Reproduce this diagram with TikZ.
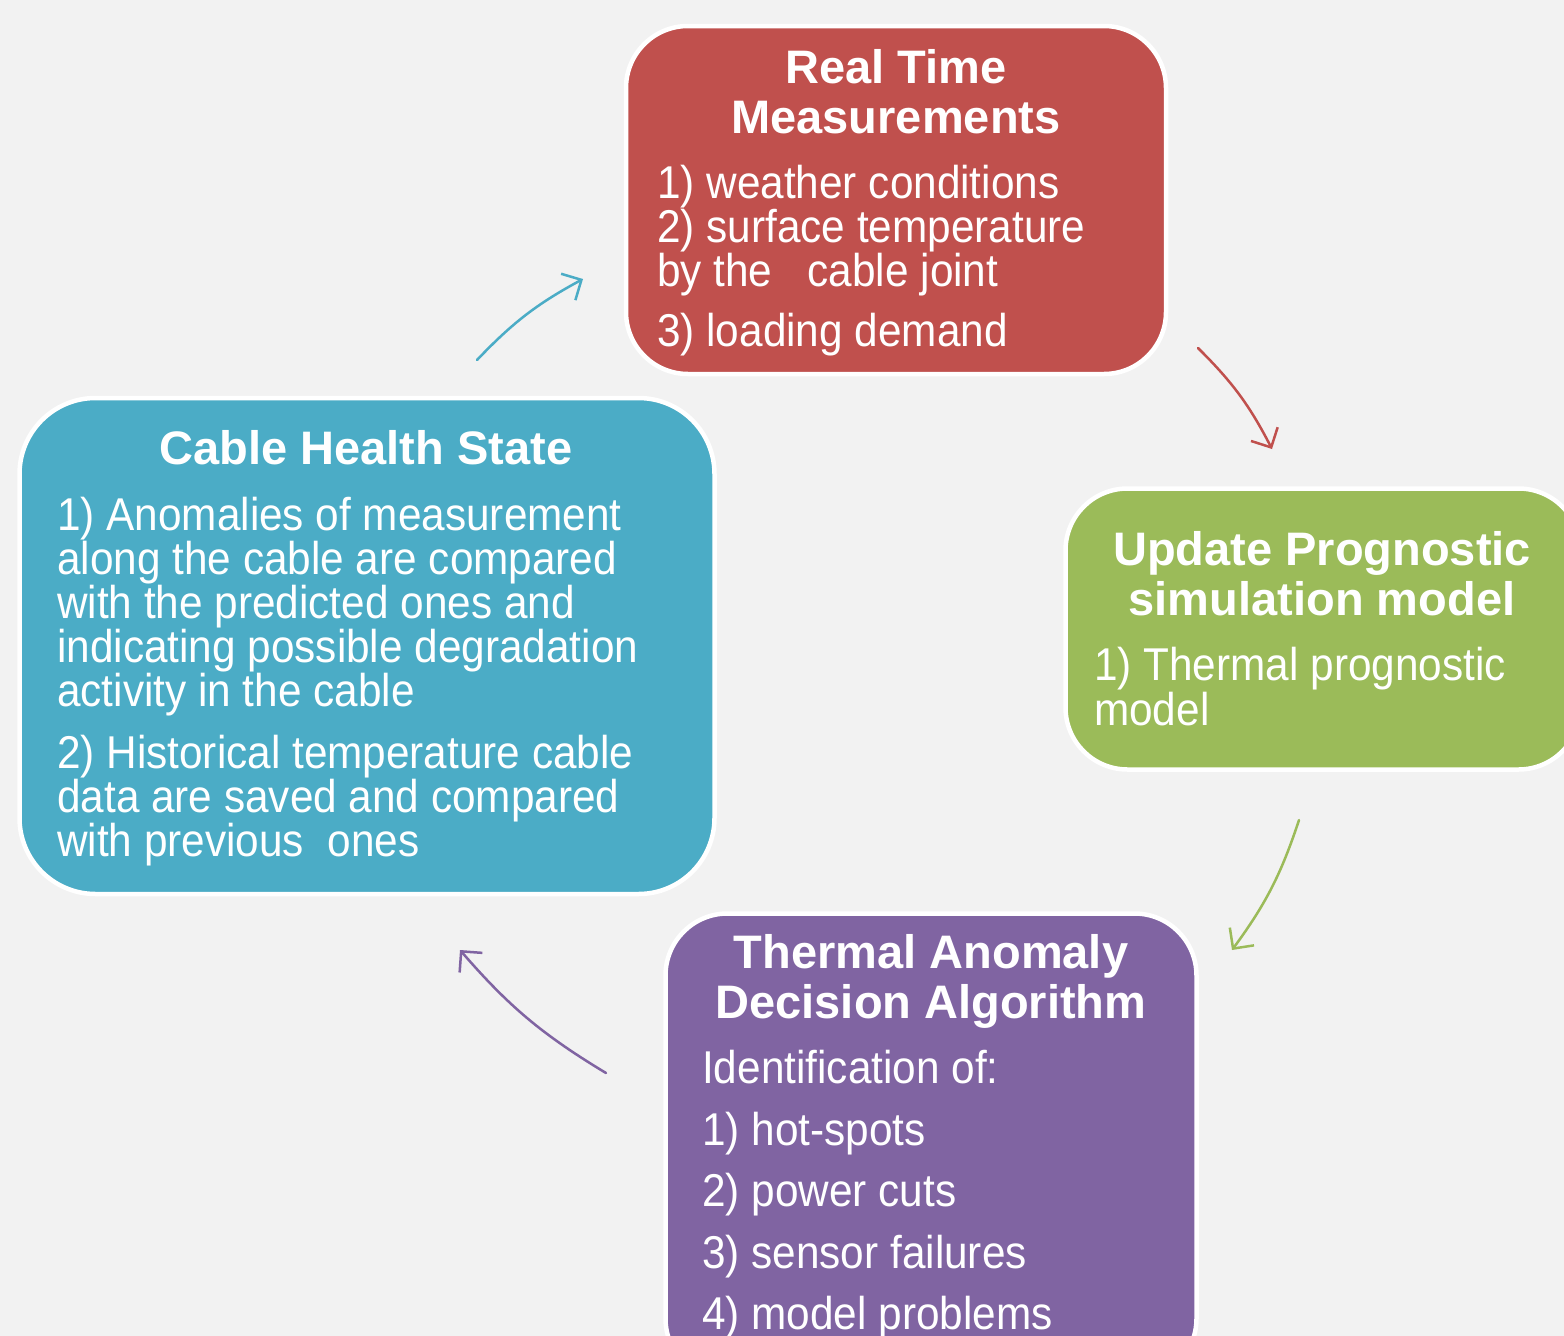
\documentclass[tikz,border=0pt]{standalone}
\usepackage{fontspec}
\setmainfont{Liberation Sans}
\newfontfamily\bodyfont[FakeStretch=0.92]{Liberation Sans}
\usetikzlibrary{arrows.meta}

\definecolor{bg}{HTML}{F2F2F2}
\definecolor{rtred}{HTML}{C0504D}
\definecolor{chteal}{HTML}{4BACC6}
\definecolor{upgreen}{HTML}{9BBB59}
\definecolor{tapurple}{HTML}{8064A2}

\tikzset{
  panel/.style={draw=white, line width=4.5pt, rounded corners=62pt, inner sep=0pt},
  ttl/.style={text=white, font=\fontsize{47}{50}\selectfont\bfseries, inner sep=0pt, anchor=base},
  txt/.style={text=white, font=\bodyfont\fontsize{46}{44}\selectfont, inner sep=0pt, anchor=base west},
  flow/.style={line width=2.5pt, line cap=round,
    -{Straight Barb[length=15pt,width=30pt,line width=2.5pt]}, bend left=9},
}

\begin{document}
\begin{tikzpicture}[x=1pt,y=-1pt]
  \useasboundingbox (0,0) rectangle (1564,1336);
  \clip (0,0) rectangle (1564,1336);
  \fill[bg] (0,0) rectangle (1564,1336);

  % panels
  \node[panel, fill=rtred, minimum width=540pt, minimum height=348pt] (rt) at (896,200) {};
  \node[panel, fill=chteal, rounded corners=76pt, minimum width=695pt, minimum height=496pt] (ch) at (367,646) {};
  \node[panel, fill=upgreen, minimum width=515pt, minimum height=281pt] (up) at (1323,629) {};
  \node[panel, fill=tapurple, minimum width=531pt, minimum height=467pt] (ta) at (931,1147) {};

  % Real Time Measurements
  \node[ttl] (rt-t1) at (896,83) {Real Time};
  \node[ttl] (rt-t2) at (896,133) {Measurements};
  \node[txt] (rt-b1) at (657,198) {1) weather conditions};
  \node[txt] (rt-b2) at (657,242) {2) surface temperature};
  \node[txt] (rt-b3) at (657,286) {by the\ \ \ cable joint};
  \node[txt] (rt-b4) at (657,346) {3) loading demand};

  % Update Prognostic simulation model
  \node[ttl] (up-t1) at (1322,565) {Update Prognostic};
  \node[ttl] (up-t2) at (1322,615) {simulation model};
  \node[txt] (up-b1) at (1094,680) {1) Thermal prognostic};
  \node[txt] (up-b2) at (1094,725) {model};

  % Thermal Anomaly Decision Algorithm
  \node[ttl] (ta-t1) at (931,968) {Thermal Anomaly};
  \node[ttl] (ta-t2) at (931,1018) {Decision Algorithm};
  \node[txt] (ta-b0) at (702,1083) {Identification of:};
  \node[txt] (ta-b1) at (702,1145) {1) hot-spots};
  \node[txt] (ta-b2) at (702,1206) {2) power cuts};
  \node[txt] (ta-b3) at (702,1268) {3) sensor failures};
  \node[txt] (ta-b4) at (702,1329) {4) model problems};

  % Cable Health State
  \node[ttl] (ch-t1) at (366,464) {Cable Health State};
  \node[txt] (ch-b1) at (57,530) {1) Anomalies of measurement};
  \node[txt] (ch-b2) at (57,574) {along the cable are compared};
  \node[txt] (ch-b3) at (57,618) {with the predicted ones and};
  \node[txt] (ch-b4) at (57,662) {indicating possible degradation};
  \node[txt] (ch-b5) at (57,706) {activity in the cable};
  \node[txt] (ch-b6) at (57,768) {2) Historical temperature cable};
  \node[txt] (ch-b7) at (57,812) {data are saved and compared};
  \node[txt] (ch-b8) at (57,856) {with previous\ \ ones};

  % cycle arrows between the panels
  \coordinate (a1s) at (477,360);  \coordinate (a1e) at (583,279);
  \coordinate (a2s) at (1198,348); \coordinate (a2e) at (1272,449);
  \coordinate (a3s) at (1299,820); \coordinate (a3e) at (1232,950);
  \coordinate (a4s) at (606,1073); \coordinate (a4e) at (460,950);

  \draw[flow, chteal]   (a1s) to (a1e);
  \draw[flow, rtred]    (a2s) to (a2e);
  \draw[flow, upgreen]  (a3s) to (a3e);
  \draw[flow, tapurple] (a4s) to (a4e);
\end{tikzpicture}
\end{document}
